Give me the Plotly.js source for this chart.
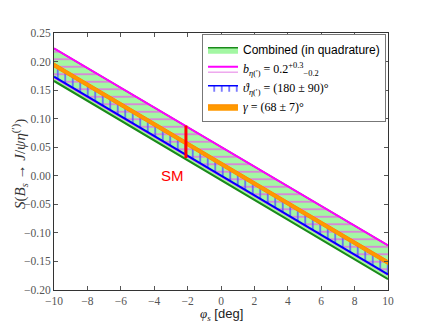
<!DOCTYPE html>
<html>
<head>
<meta charset="utf-8">
<script src="https://cdn.plot.ly/plotly-3.0.1.min.js"></script>
<style>html,body{margin:0;padding:0;background:#fff;}</style>
</head>
<body>
<div id="chart" style="width:431px;height:323px;"></div>
<script>
// phi_s [deg]
const phiS = [-10, 0, 10];
// Combined (in quadrature) band
const combinedLow = [0.166, -0.0075, -0.181];
const combinedHigh = [0.223, 0.0505, -0.122];
// b_eta band
const bLow = [0.1725, -0.0005, -0.1735];
const bHigh = [0.223, 0.0505, -0.122];
// theta_eta band
const thLow = [0.1735, 0.0, -0.1725];
const thHigh = [0.194, 0.021, -0.152];
// gamma band
const gLow = [0.1905, 0.0175, -0.1555];
const gHigh = [0.1975, 0.0245, -0.1485];
// SM point
const smPhi = [-2.1, -2.1];
const smS = [0.031, 0.088];

const serif = '"Liberation Serif", "DejaVu Serif", serif';
const sans = '"Liberation Sans", Arial, sans-serif';
const sp = '<span style="font-family:\'Liberation Serif\'">';

const traces = [
  {x: phiS, y: combinedLow, mode: 'lines', line: {color: '#1a8a1a', width: 2}, showlegend: false, hoverinfo: 'skip'},
  {x: phiS, y: combinedHigh, mode: 'lines', line: {color: '#1a8a1a', width: 1.5}, fill: 'tonexty', fillcolor: '#a3f7a3',
   name: 'Combined (in quadrature)'},
  {x: phiS, y: bLow, mode: 'lines', line: {color: '#ff00ff', width: 1.5}, showlegend: false, hoverinfo: 'skip'},
  {x: phiS, y: bHigh, mode: 'lines', line: {color: '#ff00ff', width: 2}, fill: 'tonexty', fillcolor: 'rgba(0,0,0,0)',
   fillpattern: {shape: '-', fgcolor: '#e36fe3', size: 7.5, solidity: 0.2},
   name: sp + '<i>b</i><sub><i>η</i>(′)</sub> = 0.2<sup>+0.3</sup><sub>−0.2</sub></span>'},
  {x: phiS, y: thLow, mode: 'lines', line: {color: '#0000ff', width: 2}, showlegend: false, hoverinfo: 'skip'},
  {x: phiS, y: thHigh, mode: 'lines', line: {color: '#0000ff', width: 1.5}, fill: 'tonexty', fillcolor: 'rgba(0,0,0,0)',
   fillpattern: {shape: '|', fgcolor: '#5a5aff', size: 7.5, solidity: 0.2},
   name: sp + '<i>ϑ</i><sub><i>η</i>(′)</sub> = (180 ± 90)°</span>'},
  {x: phiS, y: gLow, mode: 'lines', line: {color: '#ff8c00', width: 1}, showlegend: false, hoverinfo: 'skip'},
  {x: phiS, y: gHigh, mode: 'lines', line: {color: '#ff8c00', width: 1}, fill: 'tonexty', fillcolor: '#ff9900',
   name: sp + '<i>γ</i> = (68 ± 7)°</span>'},
  {x: smPhi, y: smS, mode: 'lines', line: {color: '#ff0000', width: 3}, showlegend: false, hoverinfo: 'skip'}
];

const axisCommon = {
  showgrid: false, zeroline: false, showline: true, linecolor: '#333', linewidth: 1,
  ticks: 'inside', ticklen: 4, tickcolor: '#555', mirror: 'allticks',
  tickfont: {family: serif, size: 11.5, color: '#555'}
};

const layout = {
  width: 431, height: 323,
  margin: {l: 54, r: 43, t: 33, b: 33, pad: 0},
  paper_bgcolor: '#fff', plot_bgcolor: '#fff',
  showlegend: true,
  xaxis: Object.assign({}, axisCommon, {range: [-10, 10], tickmode: 'array',
    tickvals: [-10, -8, -6, -4, -2, 0, 2, 4, 6, 8, 10]}),
  yaxis: Object.assign({}, axisCommon, {range: [-0.20, 0.25], tickmode: 'array',
    tickvals: [-0.20, -0.15, -0.10, -0.05, 0, 0.05, 0.10, 0.15, 0.20, 0.25], tickformat: '.2f'}),
  legend: {x: 0.994, y: 0.995, xanchor: 'right', yanchor: 'top', bgcolor: '#fff', bordercolor: '#777', borderwidth: 1,
    font: {family: sans, size: 12, color: '#000'}, itemwidth: 30, tracegroupgap: 0, traceorder: 'normal'},
  annotations: [
    {xref: 'paper', yref: 'paper', x: -0.102, y: 0.49, text: '<i>S</i>(<i>B</i><sub><i>s</i></sub> → <i>J</i>/<i>ψη</i><sup>(′)</sup>)',
     textangle: -90, showarrow: false, xanchor: 'center', yanchor: 'middle', font: {family: serif, size: 15, color: '#333'}},
    {xref: 'paper', yref: 'paper', x: 0.5, y: -0.097, text: sp + '<i>φ</i><sub><i>s</i></sub></span> [deg]',
     showarrow: false, xanchor: 'center', yanchor: 'middle', font: {family: sans, size: 13, color: '#222'}},
    {xref: 'x', yref: 'y', x: -2.9, y: 0.0, text: 'SM', showarrow: false, xanchor: 'center', yanchor: 'middle',
     font: {family: sans, size: 15, color: '#ff0000'}}
  ]
};

Plotly.newPlot('chart', traces, layout, {staticPlot: true, displayModeBar: false});
</script>
</body>
</html>
